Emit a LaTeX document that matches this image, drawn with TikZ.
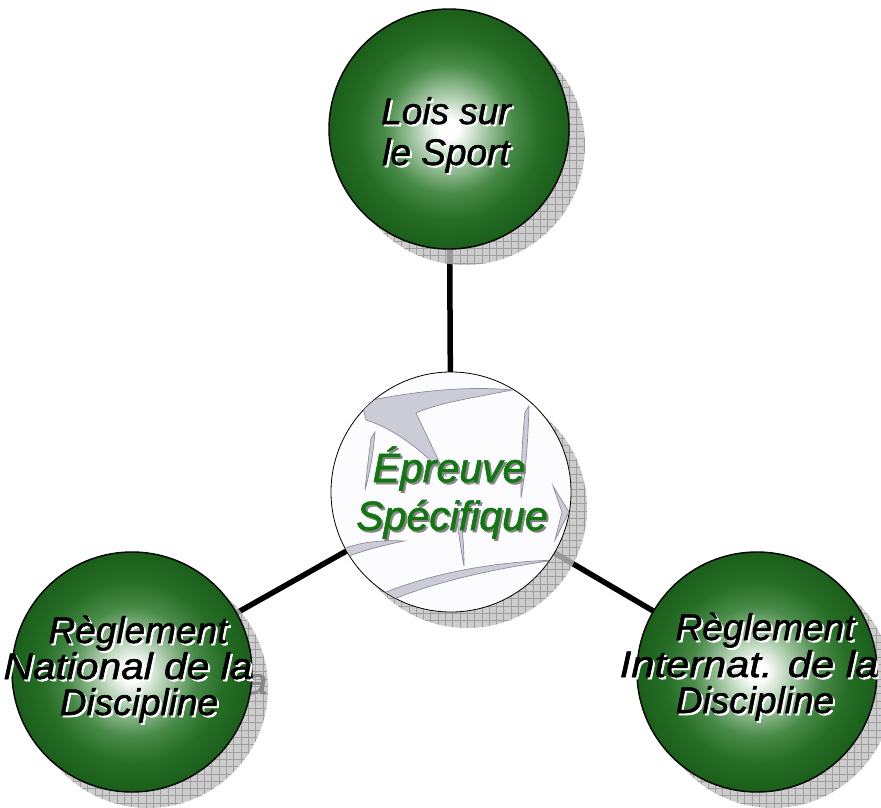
\documentclass[tikz,border=0pt]{standalone}
\usepackage{fontspec}
\setmainfont{Liberation Sans}
\newfontfamily\heavyital[FakeBold=1.4]{Liberation Sans}
\usetikzlibrary{calc}
\pgfdeclarelayer{back}
\pgfdeclarelayer{shade}
\pgfsetlayers{back,shade,main}
\definecolor{ballgreen}{RGB}{26,94,26}
\definecolor{ballgreenB}{RGB}{38,110,38}
\definecolor{midgreen}{RGB}{72,138,72}
\definecolor{palegreen}{RGB}{165,200,165}
\definecolor{txtgreen}{RGB}{18,118,18}
\definecolor{shadowfill}{RGB}{192,192,192}
\definecolor{shadowgrid}{RGB}{148,148,148}
\definecolor{swfill}{RGB}{204,204,214}
\definecolor{swdraw}{RGB}{140,140,160}
\definecolor{ghost}{RGB}{135,135,135}
\pgfdeclareradialshading{greenball}{\pgfpoint{0bp}{0bp}}{color(0bp)=(white); color(2bp)=(white); color(7.5bp)=(palegreen); color(13.5bp)=(midgreen); color(19bp)=(ballgreenB); color(25bp)=(ballgreen); color(50bp)=(ballgreen)}
\tikzset{
  ball/.style={circle, minimum size=240pt, inner sep=0pt, draw=black, line width=1.4pt, shading=greenball},
  midball/.style={circle, minimum size=240pt, inner sep=0pt, draw=black, line width=0.8pt, fill={rgb,255:red,252;green,252;blue,254}},
  link/.style={line width=5.5pt, black},
  shadowdisc/.style={fill=shadowfill, fill opacity=0.8},
  shadowlines/.style={draw=shadowgrid, line width=0.6pt, opacity=0.8},
  swoosh/.style={fill=swfill, draw=swdraw, line width=0.7pt},
  outtxt/.style={anchor=base, inner sep=0pt, font=\fontsize{37}{37}\heavyital\itshape},
  blacktxt/.style={outtxt, text=black},
  whitetxt/.style={outtxt, text=white},
  ghosttxt/.style={outtxt, text=ghost},
  midtxt/.style={anchor=base, inner sep=0pt, font=\fontsize{41}{41}\heavyital\itshape},
}
\newcommand\outline[5][]{%
  \node[whitetxt,#1] (#2w) at (#3+2,#4+2) {#5};
  \node[blacktxt,#1] (#2) at (#3,#4) {#5};}
\newcommand\midline[4]{%
  \node[midtxt, text=ghost] (#1w) at (#2+2,#3+2) {#4};
  \node[midtxt, text=txtgreen] (#1) at (#2,#3) {#4};}
\newcommand\castshadow[1]{%
  \fill[shadowdisc] ($(#1.center)+(16,16)$) circle [radius=120pt];
  \begin{scope}
    \clip ($(#1.center)+(16,16)$) circle [radius=120pt];
    \draw[shadowlines] ($(#1.center)+(-110,-110)$) grid[step=7.3pt] ($(#1.center)+(140,140)$);
  \end{scope}}
\begin{document}
\begin{tikzpicture}[x=1pt, y=-1pt]
\useasboundingbox (0,0) rectangle (881,808);
% circles
\node[ball] (top) at (449,129) {};
\node[midball] (mid) at (451,492) {};
\node[ball] (left) at (132,672) {};
\node[ball] (right) at (757,672) {};
% connectors behind
\begin{pgfonlayer}{back}
  \draw[link] (top.center) -- (mid.center);
  \draw[link] (mid.center) -- (left.center);
  \draw[link] (mid.center) -- (right.center);
\end{pgfonlayer}
% shadows (with the visible bits of the text shadows)
\begin{pgfonlayer}{shade}
  \castshadow{top}
  \castshadow{mid}
  \castshadow{left}
  \castshadow{right}
  \begin{scope}
    \clip (left.center) ++(16,16) circle [radius=120pt];
    \node[ghosttxt, xscale=1.1] (l2g) at (143,694) {National de la};
  \end{scope}
  \begin{scope}
    \clip (mid.center) ++(16,16) circle [radius=120pt];
    \node[midtxt, text=ghost] (m2g) at (467,545) {Spécifique};
  \end{scope}
\end{pgfonlayer}
% swooshes inside the centre disc
\begin{scope}
  \clip (mid.center) circle [radius=119.6pt];
  \filldraw[swoosh] (362,402) .. controls (420,390) and (470,386) .. (512,390)
     .. controls (472,398) and (438,403) .. (416,413)
     -- (446,476) .. controls (420,448) and (392,428) .. (366,420) -- cycle;
  \filldraw[swoosh] (529,406) .. controls (528,440) and (526,470) .. (521,498)
     .. controls (521,470) and (522,440) .. (525,412) -- cycle;
  \filldraw[swoosh] (375,432) .. controls (373,455) and (370,472) .. (365,490)
     .. controls (367,470) and (369,455) .. (371,438) -- cycle;
  \filldraw[swoosh] (340,550) .. controls (360,542) and (380,540) .. (404,541)
     .. controls (380,546) and (362,551) .. (343,558) -- cycle;
  \filldraw[swoosh] (461,518) .. controls (463,535) and (464,550) .. (464,566)
     .. controls (461,550) and (459,535) .. (457,522) -- cycle;
  \filldraw[swoosh] (553,486) -- (569,512) -- (555,540) -- (562,512) -- cycle;
  \filldraw[swoosh] (381,594) .. controls (430,574) and (490,562) .. (556,560)
     .. controls (490,569) and (432,583) .. (389,601) -- cycle;
\end{scope}
% texts
\outline{t1}{446}{124}{Lois sur}
\outline{t2}{446}{165}{le Sport}
\outline{l1}{138}{643}{Règlement}
\outline[xscale=1.1]{l2}{128}{679}{National de la}
\outline{l3}{139}{715}{Discipline}
\outline{r1}{765}{640}{Règlement}
\outline[xscale=1.125]{r2}{749}{677}{Internat. de la}
\outline{r3}{755}{713}{Discipline}
\midline{m1}{449}{482}{Épreuve}
\midline{m2}{452}{530}{Spécifique}
\end{tikzpicture}
\end{document}
